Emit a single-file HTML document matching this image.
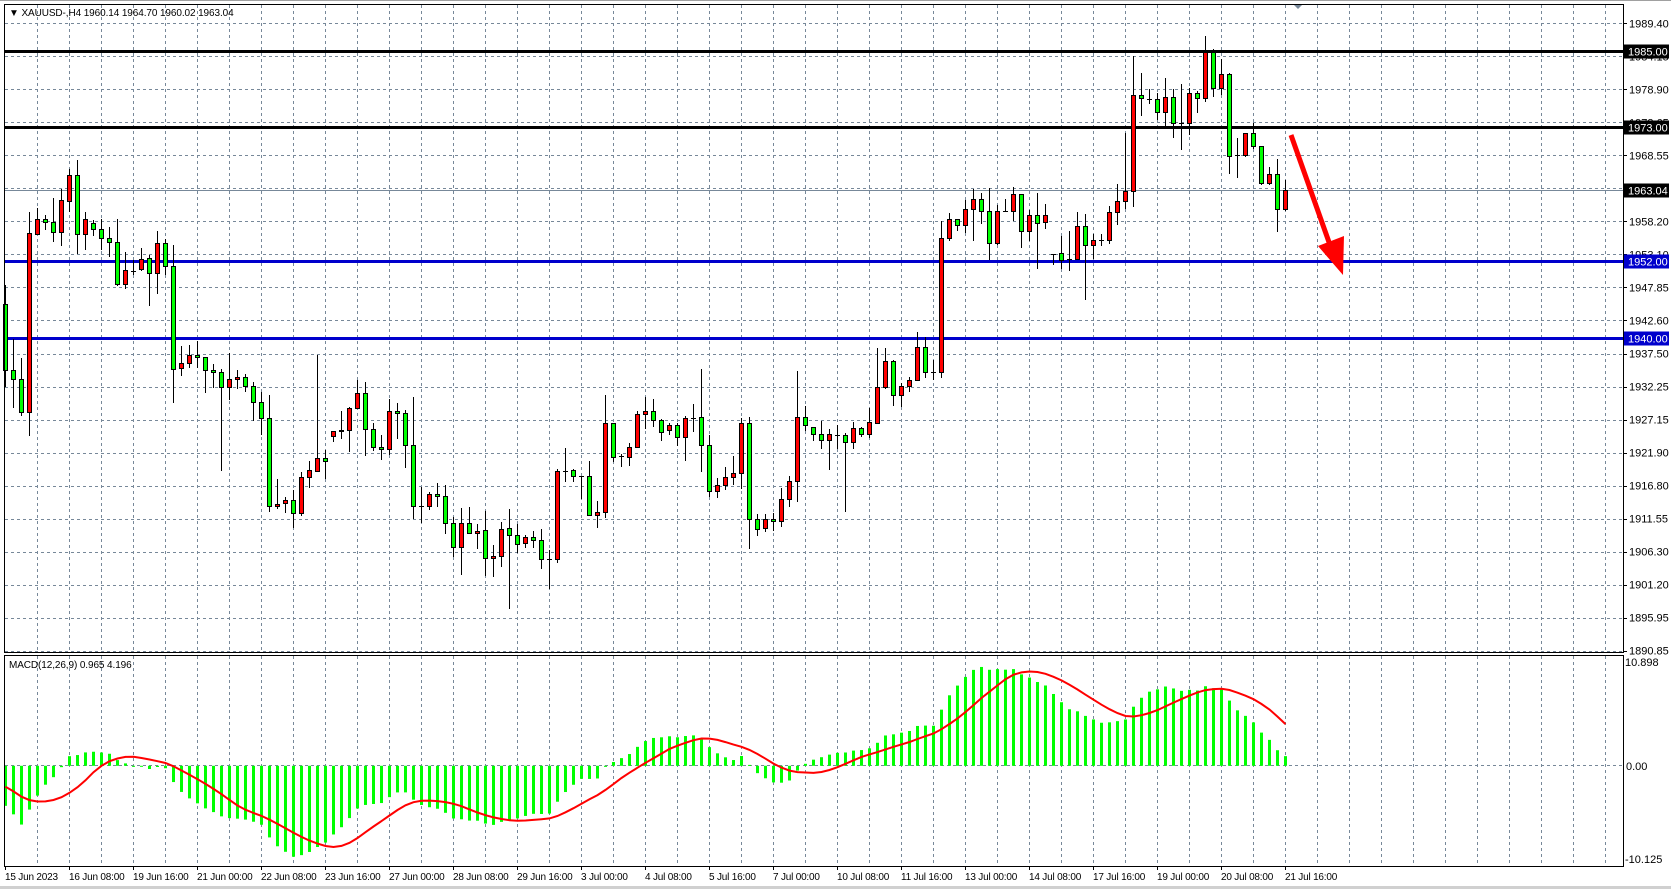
<!DOCTYPE html>
<html><head><meta charset="utf-8">
<style>
html,body{margin:0;padding:0;background:#fff;}
svg{display:block;font-family:"Liberation Sans",sans-serif;}
</style></head>
<body>
<svg id="c" width="1671" height="889" xmlns="http://www.w3.org/2000/svg"></svg>
<script>
const B=[[304,370,285,387],[370,379,339,408],[379,412,358,416],[412,233,212,436],[234,219,208,234],[219,222,215,230],[222,232,198,242],[232,200,189,246],[201,175,169,212],[175,234,160,254],
[234,219,212,250],[223,229,220,236],[229,238,219,250],[238,242,227,257],[242,284,219,286],[284,270,252,289],[271,271,260,275],[269,259,248,271],[258,273,255,306],[273,243,231,294],
[243,266,239,275],[266,369,245,403],[368,363,346,376],[363,355,345,368],[355,357,341,368],[357,370,357,393],[370,372,364,388],[372,387,369,471],[387,379,353,400],[379,377,370,389],
[377,386,374,392],[386,402,382,421],[402,418,392,435],[418,506,395,512],[506,504,479,509],[503,500,497,513],[500,513,490,528],[513,477,472,516],[477,470,461,488],[471,458,355,472],
[458,461,450,479],[436,431,431,442],[431,430,411,439],[430,408,407,452],[408,393,380,408],[393,429,382,456],[429,447,423,451],[447,449,435,460],[449,411,399,455],[411,413,403,439],
[413,445,410,468],[445,506,397,519],[506,506,487,523],[506,494,492,510],[494,496,483,507],[496,523,485,534],[523,547,517,557],[547,523,508,575],[523,533,507,533],[533,531,524,549],
[530,558,511,576],[558,556,545,577],[556,529,522,567],[528,535,509,609],[535,544,524,553],[543,537,535,548],[537,540,531,548],[540,559,529,569],[559,559,550,589],[559,471,469,563],
[471,471,448,482],[470,476,469,482],[476,476,476,499],[476,515,461,515],[515,512,501,528],[512,423,395,518],[423,457,423,462],[456,456,454,467],[457,447,443,466],[447,414,411,448],
[414,411,397,429],[411,420,399,427],[420,432,419,441],[430,425,423,435],[425,437,423,446],[437,418,416,461],[418,418,404,432],[417,445,369,472],[445,491,435,497],[491,485,478,498],
[485,477,467,490],[477,473,456,485],[473,423,418,489],[423,519,417,549],[519,529,514,536],[528,519,514,532],[519,521,513,531],[521,499,488,527],[499,481,476,507],[481,417,371,502],
[417,425,406,431],[427,434,427,441],[434,440,421,449],[440,434,429,470],[435,435,425,449],[435,442,433,512],[442,428,422,449],[428,434,427,437],[434,422,408,438],[423,387,348,424],
[387,361,348,389],[361,395,360,406],[395,386,383,407],[386,380,377,392],[380,347,332,381],[347,372,337,378],[372,372,360,380],[372,238,221,378],[238,219,213,241],[219,225,219,231],
[225,209,200,233],[209,199,189,241],[199,211,193,224],[211,243,188,260],[243,211,205,245],[211,211,199,211],[211,194,187,221],[194,231,194,248],[231,215,210,241],[215,223,193,269],
[222,215,204,229],[254,254,254,265],[253,260,236,269],[259,259,231,271],[259,226,212,259],[226,245,214,300],[245,240,234,259],[240,240,234,246],[240,212,206,244],[212,201,184,225],
[201,191,133,209],[191,95,56,207],[95,98,73,116],[99,99,89,104],[99,112,93,120],[112,97,78,126],[97,123,89,138],[123,123,84,150],[123,93,88,135],[93,98,91,113],
[98,52,36,102],[52,88,49,97],[88,74,59,95],[74,156,73,174],[155,155,138,178],[155,133,133,157],[133,146,123,149],[146,183,146,185],[183,174,167,185],[174,209,159,232],
[209,190,180,211]];
let s='';
const R=1623;
const dash='stroke="#778899" stroke-width="1" stroke-dasharray="3,3"';
for(let k=0;k<20;k++){const y=Math.round(23.3+33.02*k)+0.5;s+=`<line x1="5" x2="${R}" y1="${y}" y2="${y}" ${dash}/>`;}
for(let k=0;k<50;k++){const x=Math.round(37.3+32*k)+0.5;s+=`<line x1="${x}" x2="${x}" y1="5" y2="652" ${dash}/><line x1="${x}" x2="${x}" y1="656" y2="866" ${dash}/>`;}
s+=`<line x1="5" x2="${R}" y1="765.5" y2="765.5" ${dash}/>`;
s+=`<line x1="5" x2="${R}" y1="190.5" y2="190.5" stroke="#778899" stroke-width="1"/>`;
s+=`<rect x="5" y="50" width="${R-5}" height="3" fill="#000"/>`;
s+=`<rect x="5" y="126" width="${R-5}" height="3" fill="#000"/>`;
s+=`<rect x="5" y="260" width="${R-5}" height="3" fill="#0000cc"/>`;
s+=`<rect x="5" y="337" width="${R-5}" height="3" fill="#0000cc"/>`;
B.forEach((b,i)=>{const cx=5+8*i;const [o,c,h,l]=b;
 s+=`<line x1="${cx+0.5}" x2="${cx+0.5}" y1="${h}" y2="${l}" stroke="#000"/>`;
 if(o===c){s+=`<line x1="${cx-2}" x2="${cx+3}" y1="${o+0.5}" y2="${o+0.5}" stroke="#000"/>`;}
 else{const t=Math.min(o,c),bt=Math.max(o,c);const col=c<o?'#ff0000':'#00ff00';
  s+=`<rect x="${cx-1.5}" y="${t+0.5}" width="4" height="${bt-t}" fill="${col}" stroke="#000" stroke-width="1"/>`;}
});
const P=B.map(b=>1989.4-(b[1]-23.3)/6.366);
let warm=[];for(let i=0;i<60;i++)warm.push(1958);for(let i=0;i<12;i++)warm.push(1958-i*1.2);
const all=warm.concat(P);
let e12=all[0],e26=all[0];const a12=2/13,a26=2/27;const M=[];
all.forEach(p=>{e12=e12+a12*(p-e12);e26=e26+a26*(p-e26);M.push(e12-e26);});
const Sg=M.map((v,i)=>{let n=Math.min(9,i+1),t=0;for(let j=0;j<n;j++)t+=M[i-j];return t/n;});
const off=warm.length;const sc=9.95,z=765.8;
let pts=[];
for(let i=0;i<B.length;i++){const v=M[off+i];const cx=5+8*i;const y=z-v*sc;
 const t=Math.min(y,z),hh=Math.abs(y-z);s+=`<rect x="${cx-1}" y="${t}" width="3" height="${Math.max(hh,1)}" fill="#00ff00"/>`;
 pts.push(`${cx+0.5},${(z-Sg[off+i]*sc).toFixed(1)}`);}
s+=`<polyline points="${pts.join(' ')}" fill="none" stroke="#ff0000" stroke-width="2"/>`;
s+=`<line x1="1291" y1="135" x2="1330" y2="245" stroke="#ff0000" stroke-width="5"/>`;
s+=`<polygon points="1318,246 1344,236 1343,275" fill="#ff0000"/>`;
s+=`<rect x="${R+1}" y="0" width="60" height="889" fill="#fff"/>`;
s+=`<rect x="0" y="867" width="1671" height="22" fill="#fff"/>`;
s+=`<rect x="4.5" y="4.5" width="${R-4}" height="648" fill="none" stroke="#000"/>`;
s+=`<rect x="4.5" y="655.5" width="${R-4}" height="211" fill="none" stroke="#000"/>`;
s+=`<line x1="0" x2="1671" y1="0.5" y2="0.5" stroke="#a0a0a0"/>`;
s+=`<line x1="0" x2="1671" y1="887.5" y2="887.5" stroke="#d0d0d0" stroke-width="3"/>`;
s+=`<polygon points="1294,5 1302,5 1298,9" fill="#778899"/>`;
const L=["1989.40","1984.15","1978.90","1973.65","1968.55","1963.30","1958.20","1953.10","1947.85","1942.60","1937.50","1932.25","1927.15","1921.90","1916.80","1911.55","1906.30","1901.20","1895.95","1890.85"];
L.forEach((t,k)=>{const y=23.3+33.02*k;s+=`<line x1="${R}" x2="${R+4}" y1="${Math.round(y)+0.5}" y2="${Math.round(y)+0.5}" stroke="#000"/><text x="1629" y="${y+4}" font-size="11" fill="#000">${t}</text>`;});
const box=(y,t,c)=>`<rect x="1624" y="${y-7}" width="45" height="14" fill="${c}"/><text x="1628" y="${y+4}" font-size="11" fill="#fff">${t}</text>`;
s+=box(51.5,"1985.00","#000")+box(127.5,"1973.00","#000")+box(190.5,"1963.04","#000")+box(261.5,"1952.00","#0000cc")+box(338.5,"1940.00","#0000cc");
s+=`<text x="1625" y="666" font-size="11">10.898</text><text x="1626" y="770" font-size="11">0.00</text><text x="1625" y="863" font-size="11">-10.125</text>`;
const T=["15 Jun 2023","16 Jun 08:00","19 Jun 16:00","21 Jun 00:00","22 Jun 08:00","23 Jun 16:00","27 Jun 00:00","28 Jun 08:00","29 Jun 16:00","3 Jul 00:00","4 Jul 08:00","5 Jul 16:00","7 Jul 00:00","10 Jul 08:00","11 Jul 16:00","13 Jul 00:00","14 Jul 08:00","17 Jul 16:00","19 Jul 00:00","20 Jul 08:00","21 Jul 16:00"];
T.forEach((t,k)=>{const x=5+64*k;s+=`<line x1="${x+0.5}" x2="${x+0.5}" y1="866" y2="870" stroke="#000"/><text x="${x}" y="880" font-size="10" letter-spacing="-0.2">${t}</text>`;});
s+=`<text x="9" y="16" font-size="10" letter-spacing="-0.1">▼ XAUUSD-,H4  1960.14 1964.70 1960.02 1963.04</text>`;
s+=`<text x="9" y="668" font-size="10" letter-spacing="-0.1">MACD(12,26,9) 0.965 4.196</text>`;
document.getElementById('c').innerHTML=s;
</script>
</body></html>
